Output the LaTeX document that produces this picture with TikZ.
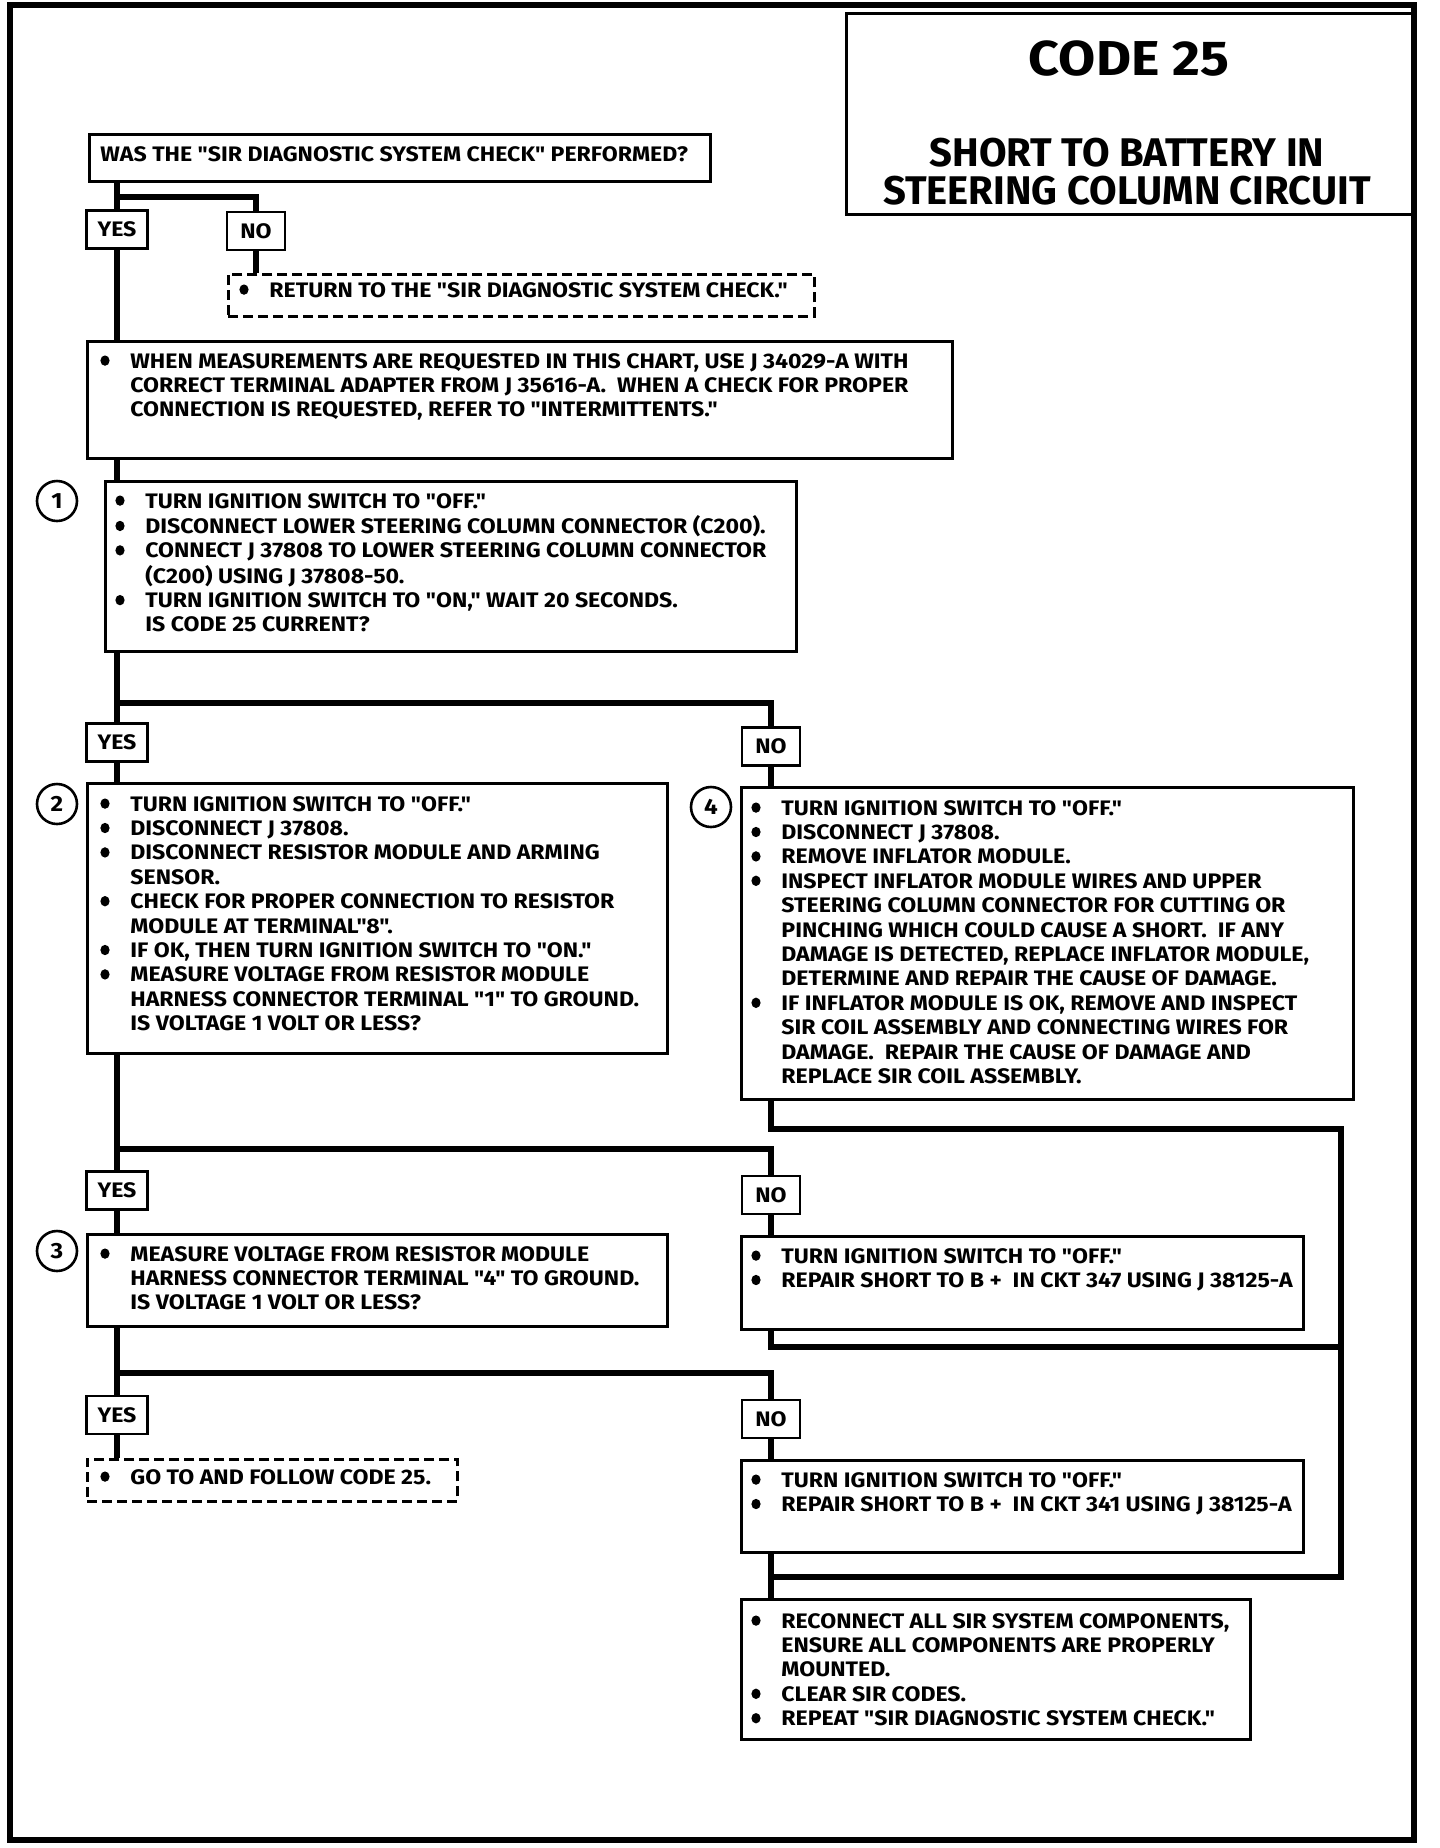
\documentclass[tikz,border=0pt]{standalone}
\usepackage{fontspec}
\newfontfamily\bodyf{Fira Sans}[FakeStretch=1.1]
\newfontfamily\titlef{Fira Sans}
\usepackage{array}
\newcommand\tb[1]{\begin{tabular}[t]{@{}p{15pt}@{}l@{}}#1\end{tabular}}
\newcommand\bul{\tikz[baseline=0pt]\fill (2.3pt,3.7pt) ellipse[x radius=2.3pt, y radius=2.6pt];}
\newcommand\bx[6][box]{\node[#1, anchor=north west, minimum width=#5*0.5pt, minimum height=#6*0.5pt] (#2) at (#3,#4) {};}
\tikzset{
 box/.style={draw, line width=1.3pt, rectangle, inner sep=0pt},
 dbox/.style={box, dash pattern=on 5pt off 2.5pt},
 yesbox/.style={draw, line width=1.3pt, inner sep=0pt, minimum width=30.5pt, minimum height=19pt, font=\bodyf\fontsize{10.5}{12}\selectfont\bfseries},
 nobox/.style={yesbox, minimum width=29pt},
 txt/.style={anchor=base west, inner sep=0pt, font=\bodyf\fontsize{10.5}{12.2}\selectfont\bfseries},
 num/.style={draw, circle, line width=1.3pt, minimum size=20pt, inner sep=0pt, font=\bodyf\fontsize{11}{12}\selectfont\bfseries},
 conn/.style={line width=3pt, line join=miter},
}
\begin{document}
\begin{tikzpicture}[x=0.5pt,y=-0.5pt]
\useasboundingbox (0,0) rectangle (1440,1848);
% outer frame
\draw[line width=2.6pt] (10,5) rectangle (1414,1840);
% title
\bx[box, line width=1.5pt]{title}{845}{12}{569}{201}
\node[inner sep=0pt, font=\bodyf\fontsize{24.5}{28}\selectfont\bfseries] (t1) at (1129,59) {CODE 25};
\node[inner sep=0pt, align=center, font=\titlef\fontsize{20}{19}\selectfont\bfseries] (t2) at (1127,172) {SHORT TO BATTERY IN\\STEERING COLUMN CIRCUIT};
% question
\bx{q}{88}{133}{621}{47}
\node[txt] (qt) at (100,161) {WAS THE "SIR DIAGNOSTIC SYSTEM CHECK" PERFORMED?};
\node[yesbox] (yes1) at (117,229.5) {YES};
\node[nobox] (no1) at (256,231) {NO};
\bx[dbox]{d1}{227}{273}{586}{42}
\node[txt] (d1t) at (239,297) {\tb{\bul & RETURN TO THE "SIR DIAGNOSTIC SYSTEM CHECK."\\}};
% info
\bx{info}{86}{340}{865}{117}
\node[txt] (infot) at (100,368) {\tb{\bul & WHEN MEASUREMENTS ARE REQUESTED IN THIS CHART, USE J 34029-A WITH\\
 & CORRECT TERMINAL ADAPTER FROM J 35616-A.\ \ WHEN A CHECK FOR PROPER\\
 & CONNECTION IS REQUESTED, REFER TO "INTERMITTENTS."\\}};
% step 1
\node[num] (c1) at (57,501) {1};
\bx{b1}{104}{480}{691}{170}
\node[txt] (b1t) at (115,508) {\tb{\bul & TURN IGNITION SWITCH TO "OFF."\\
\bul & DISCONNECT LOWER STEERING COLUMN CONNECTOR (C200).\\
\bul & CONNECT J 37808 TO LOWER STEERING COLUMN CONNECTOR\\
 & (C200) USING J 37808-50.\\
\bul & TURN IGNITION SWITCH TO "ON," WAIT 20 SECONDS.\\
 & IS CODE 25 CURRENT?\\}};
\node[yesbox] (yes2) at (117,742.5) {YES};
\node[nobox] (no2) at (771,746.5) {NO};
% step 2
\node[num] (c2) at (57,804) {2};
\bx{b2}{86}{782}{580}{270}
\node[txt] (b2t) at (100,811) {\tb{\bul & TURN IGNITION SWITCH TO "OFF."\\
\bul & DISCONNECT J 37808.\\
\bul & DISCONNECT RESISTOR MODULE AND ARMING\\
 & SENSOR.\\
\bul & CHECK FOR PROPER CONNECTION TO RESISTOR\\
 & MODULE AT TERMINAL"8".\\
\bul & IF OK, THEN TURN IGNITION SWITCH TO "ON."\\
\bul & MEASURE VOLTAGE FROM RESISTOR MODULE\\
 & HARNESS CONNECTOR TERMINAL "1" TO GROUND.\\
 & IS VOLTAGE 1 VOLT OR LESS?\\}};
% step 4
\node[num] (c4) at (711,807) {4};
\bx{b4}{740}{786}{612}{312}
\node[txt] (b4t) at (751,815) {\tb{\bul & TURN IGNITION SWITCH TO "OFF."\\
\bul & DISCONNECT J 37808.\\
\bul & REMOVE INFLATOR MODULE.\\
\bul & INSPECT INFLATOR MODULE WIRES AND UPPER\\
 & STEERING COLUMN CONNECTOR FOR CUTTING OR\\
 & PINCHING WHICH COULD CAUSE A SHORT.\ \ IF ANY\\
 & DAMAGE IS DETECTED, REPLACE INFLATOR MODULE,\\
 & DETERMINE AND REPAIR THE CAUSE OF DAMAGE.\\
\bul & IF INFLATOR MODULE IS OK, REMOVE AND INSPECT\\
 & SIR COIL ASSEMBLY AND CONNECTING WIRES FOR\\
 & DAMAGE.\ \ REPAIR THE CAUSE OF DAMAGE AND\\
 & REPLACE SIR COIL ASSEMBLY.\\}};
\node[yesbox] (yes3) at (117,1190.5) {YES};
\node[nobox] (no3) at (771,1195) {NO};
% step 3
\node[num] (c3) at (57,1251) {3};
\bx{b3}{86}{1233}{580}{92}
\node[txt] (b3t) at (100,1261) {\tb{\bul & MEASURE VOLTAGE FROM RESISTOR MODULE\\
 & HARNESS CONNECTOR TERMINAL "4" TO GROUND.\\
 & IS VOLTAGE 1 VOLT OR LESS?\\}};
\bx{b5}{740}{1235}{562}{93}
\node[txt] (b5t) at (751,1263) {\tb{\bul & TURN IGNITION SWITCH TO "OFF."\\
\bul & REPAIR SHORT TO B + \ IN CKT 347 USING J 38125-A\\}};
\node[yesbox] (yes4) at (117,1415) {YES};
\node[nobox] (no4) at (771,1419) {NO};
\bx[dbox]{d2}{86}{1458}{370}{42}
\node[txt] (d2t) at (100,1484) {\tb{\bul & GO TO AND FOLLOW CODE 25.\\}};
\bx{b6}{740}{1459}{562}{92}
\node[txt] (b6t) at (751,1487) {\tb{\bul & TURN IGNITION SWITCH TO "OFF."\\
\bul & REPAIR SHORT TO B + \ IN CKT 341 USING J 38125-A\\}};
\bx{b7}{740}{1598}{509}{140}
\node[txt] (b7t) at (751,1628) {\tb{\bul & RECONNECT ALL SIR SYSTEM COMPONENTS,\\
 & ENSURE ALL COMPONENTS ARE PROPERLY\\
 & MOUNTED.\\
\bul & CLEAR SIR CODES.\\
\bul & REPEAT "SIR DIAGNOSTIC SYSTEM CHECK."\\}};
% connectors
\coordinate (j1) at (117,197);
\coordinate (j2) at (117,703);
\coordinate (j3) at (117,1149);
\coordinate (j4) at (117,1373);
\coordinate (r1) at (1341,1129);
\coordinate (r2) at (1341,1347);
\coordinate (r3) at (1341,1577);
\coordinate (j7) at (771,1577);
\draw[conn] (q.south -| yes1) -- (yes1.north);
\draw[conn] (j1) -| (no1.north);
\draw[conn] (no1.south) -- (d1.north -| no1);
\draw[conn] (yes1.south) -- (info.north -| yes1);
\draw[conn] (info.south -| yes1) -- (b1.north -| yes1);
\draw[conn] (b1.south -| yes2) -- (yes2.north);
\draw[conn] (j2) -| (no2.north);
\draw[conn] (yes2.south) -- (b2.north -| yes2);
\draw[conn] (no2.south) -- (b4.north -| no2);
\draw[conn] (b2.south -| yes3) -- (yes3.north);
\draw[conn] (j3) -| (no3.north);
\draw[conn] (yes3.south) -- (b3.north -| yes3);
\draw[conn] (no3.south) -- (b5.north -| no3);
\draw[conn] (b3.south -| yes4) -- (yes4.north);
\draw[conn] (j4) -| (no4.north);
\draw[conn] (yes4.south) -- (d2.north -| yes4);
\draw[conn] (no4.south) -- (b6.north -| no4);
\draw[conn] (b4.south -| no2) |- (r1) -- (r3) -- (j7);
\draw[conn] (b5.south -| no3) |- (r2);
\draw[conn] (b6.south -| no4) -- (b7.north -| no4);
\end{tikzpicture}
\end{document}
